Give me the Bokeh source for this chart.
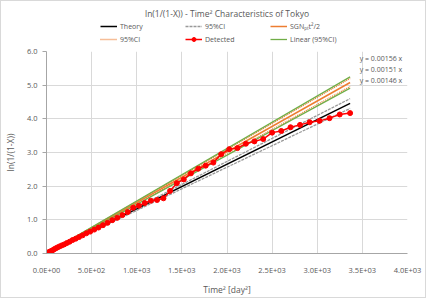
from bokeh.plotting import figure
from bokeh.layouts import column
from bokeh.models import (Legend, LegendItem, Title, Label, CustomJSTickFormatter,
                          NumeralTickFormatter, FixedTicker, Range1d)
from bokeh.embed import file_html
from bokeh.resources import INLINE

# ---- data ----
days = list(range(0, 59))
detected = [0.00, 0.00, 0.01, 0.01, 0.02, 0.04, 0.05, 0.07, 0.09, 0.12,
            0.15, 0.18, 0.21, 0.24, 0.27, 0.31, 0.35, 0.40, 0.44, 0.49,
            0.54, 0.60, 0.65, 0.71, 0.77, 0.84, 0.91, 0.99, 1.06, 1.14,
            1.23, 1.36, 1.42, 1.50, 1.57, 1.59, 1.64, 1.86, 2.09, 2.20,
            2.38, 2.52, 2.61, 2.70, 2.95, 3.10, 3.13, 3.26, 3.33, 3.40,
            3.59, 3.64, 3.75, 3.82, 3.90, 3.94, 4.02, 4.13, 4.17]
time_sq = [d * d for d in days]

line_x = [0, 3364]
theory_y = [0, 4.46]
ci_gray_upper_y = [0, 4.60]
ci_gray_lower_y = [0, 4.31]
sgn_y = [0, 5.08]
ci_orange_upper_y = [0, 5.20]
ci_orange_lower_y = [0, 4.96]
trend_slopes = [0.00156, 0.00151, 0.00146]

x_ticks = [0, 500, 1000, 1500, 2000, 2500, 3000, 3500, 4000]
y_ticks = [0, 1, 2, 3, 4, 5, 6]

FONT = "Open Sans"
TXT = "#595959"
W = 424

# styles (shared by plot and legend)
S_THEORY = dict(line_color="black", line_width=1.5)
S_CI1 = dict(line_color="#999999", line_width=1.3, line_dash="3 1")
S_SGN = dict(line_color="#ed7d31", line_width=1.5)
S_CI2 = dict(line_color="#ed7d31", line_width=1.3, line_dash="1 1")
S_LIN = dict(line_color="#70ad47", line_width=1.3)
S_DET = dict(line_color="#ff0000", line_width=1.5)
S_DET_PT = dict(marker="circle", size=5, fill_color="#ff0000", line_color="#ff0000")


def draw_series(fig):
    r = {}
    r["theory"] = fig.line(line_x, theory_y, **S_THEORY)
    r["ci1"] = fig.line(line_x, ci_gray_upper_y, **S_CI1)
    fig.line(line_x, ci_gray_lower_y, **S_CI1)
    r["sgn"] = fig.line(line_x, sgn_y, **S_SGN)
    r["ci2"] = fig.line(line_x, ci_orange_upper_y, **S_CI2)
    fig.line(line_x, ci_orange_lower_y, **S_CI2)
    r["lin"] = fig.line(line_x, [trend_slopes[0] * x for x in line_x], **S_LIN)
    fig.line(line_x, [trend_slopes[2] * x for x in line_x], **S_LIN)
    r["det"] = fig.line(time_sq, detected, **S_DET)
    r["det_pt"] = fig.scatter(time_sq, detected, **S_DET_PT)
    return r


# ---------------- main plot ----------------
p = figure(width=W, height=251, output_backend="svg", toolbar_location=None,
           x_range=Range1d(0, 4000), y_range=Range1d(0, 6),
           min_border_left=40, min_border_right=18, min_border_top=5,
           min_border_bottom=39)
p.outline_line_color = None

p.xaxis.ticker = FixedTicker(ticks=x_ticks)
p.yaxis.ticker = FixedTicker(ticks=y_ticks)
p.xgrid.ticker = FixedTicker(ticks=x_ticks)
p.ygrid.ticker = FixedTicker(ticks=y_ticks)
p.grid.grid_line_color = "#d9d9d9"
p.xaxis.formatter = CustomJSTickFormatter(code="""
const s = tick.toExponential(1).split('e');
const e = parseInt(s[1]);
return s[0] + 'E' + (e < 0 ? '-' : '+') + String(Math.abs(e)).padStart(2, '0');
""")
p.yaxis.formatter = NumeralTickFormatter(format="0.0")
for ax in (p.xaxis[0], p.yaxis[0]):
    ax.axis_line_color = "#a6a6a6"
    ax.major_label_text_font = FONT
    ax.major_label_text_font_size = "7.5px"
    ax.major_label_text_color = TXT
    ax.axis_label_text_font = FONT
    ax.axis_label_text_font_size = "8.5px"
    ax.axis_label_text_font_style = "normal"
    ax.axis_label_text_color = TXT
    ax.minor_tick_line_color = None
p.xaxis.major_tick_line_color = None
p.yaxis.major_tick_line_color = "#a6a6a6"
p.yaxis.major_tick_out = 4
p.yaxis.major_tick_in = 0
p.xaxis.major_label_standoff = 5
p.yaxis.major_label_standoff = 5
p.xaxis.axis_label = "Time² [day²]"
p.yaxis.axis_label = "ln(1/(1-X))"
p.xaxis.axis_label_standoff = 6
p.yaxis.axis_label_standoff = 8

draw_series(p)

for i, s in enumerate(trend_slopes):
    p.add_layout(Label(x=3470, y=5.78 - i * 0.32, text=f"y = {s:.5f} x",
                       text_font=FONT, text_font_size="7px", text_color=TXT,
                       text_baseline="middle"))

# ---------------- header: title + legend ----------------
# same series drawn again, but the header's y range lies below all data,
# so only their legend glyphs show
h = figure(width=W, height=45, output_backend="svg", toolbar_location=None,
           x_axis_type=None, y_axis_type=None,
           x_range=Range1d(0, 4000), y_range=Range1d(-20, -10),
           min_border_left=0, min_border_right=0, min_border_top=20,
           min_border_bottom=0)
h.grid.visible = False
h.outline_line_color = None
h.title = Title(text="ln(1/(1-X)) - Time² Characteristics of Tokyo",
                align="center", offset=-18, text_font=FONT,
                text_font_size="8.5px", text_font_style="normal",
                text_color=TXT, standoff=5)

g = draw_series(h)

row1 = [LegendItem(label="Theory", renderers=[g["theory"]]),
        LegendItem(label="95%CI", renderers=[g["ci1"]]),
        LegendItem(label="SGNₚₜt²/2", renderers=[g["sgn"]])]
row2 = [LegendItem(label="95%CI", renderers=[g["ci2"]]),
        LegendItem(label="Detected", renderers=[g["det"], g["det_pt"]]),
        LegendItem(label="Linear (95%CI)", renderers=[g["lin"]])]


def make_legend(items, loc):
    return Legend(items=items, location=loc, orientation="horizontal",
                  label_text_font=FONT, label_text_font_size="7px",
                  label_text_color=TXT, glyph_width=17, glyph_height=10,
                  label_height=10, label_width=62, label_standoff=3, spacing=3,
                  padding=0, margin=0, border_line_color=None,
                  background_fill_alpha=0)


h.add_layout(make_legend(row1, (54, 15)), "center")
h.add_layout(make_legend(row2, (54, 2)), "center")

layout = column(h, p, spacing=0)
layout.styles = {"border": "1px solid #d9d9d9"}

open("out.html", "w").write(file_html(layout, INLINE))
